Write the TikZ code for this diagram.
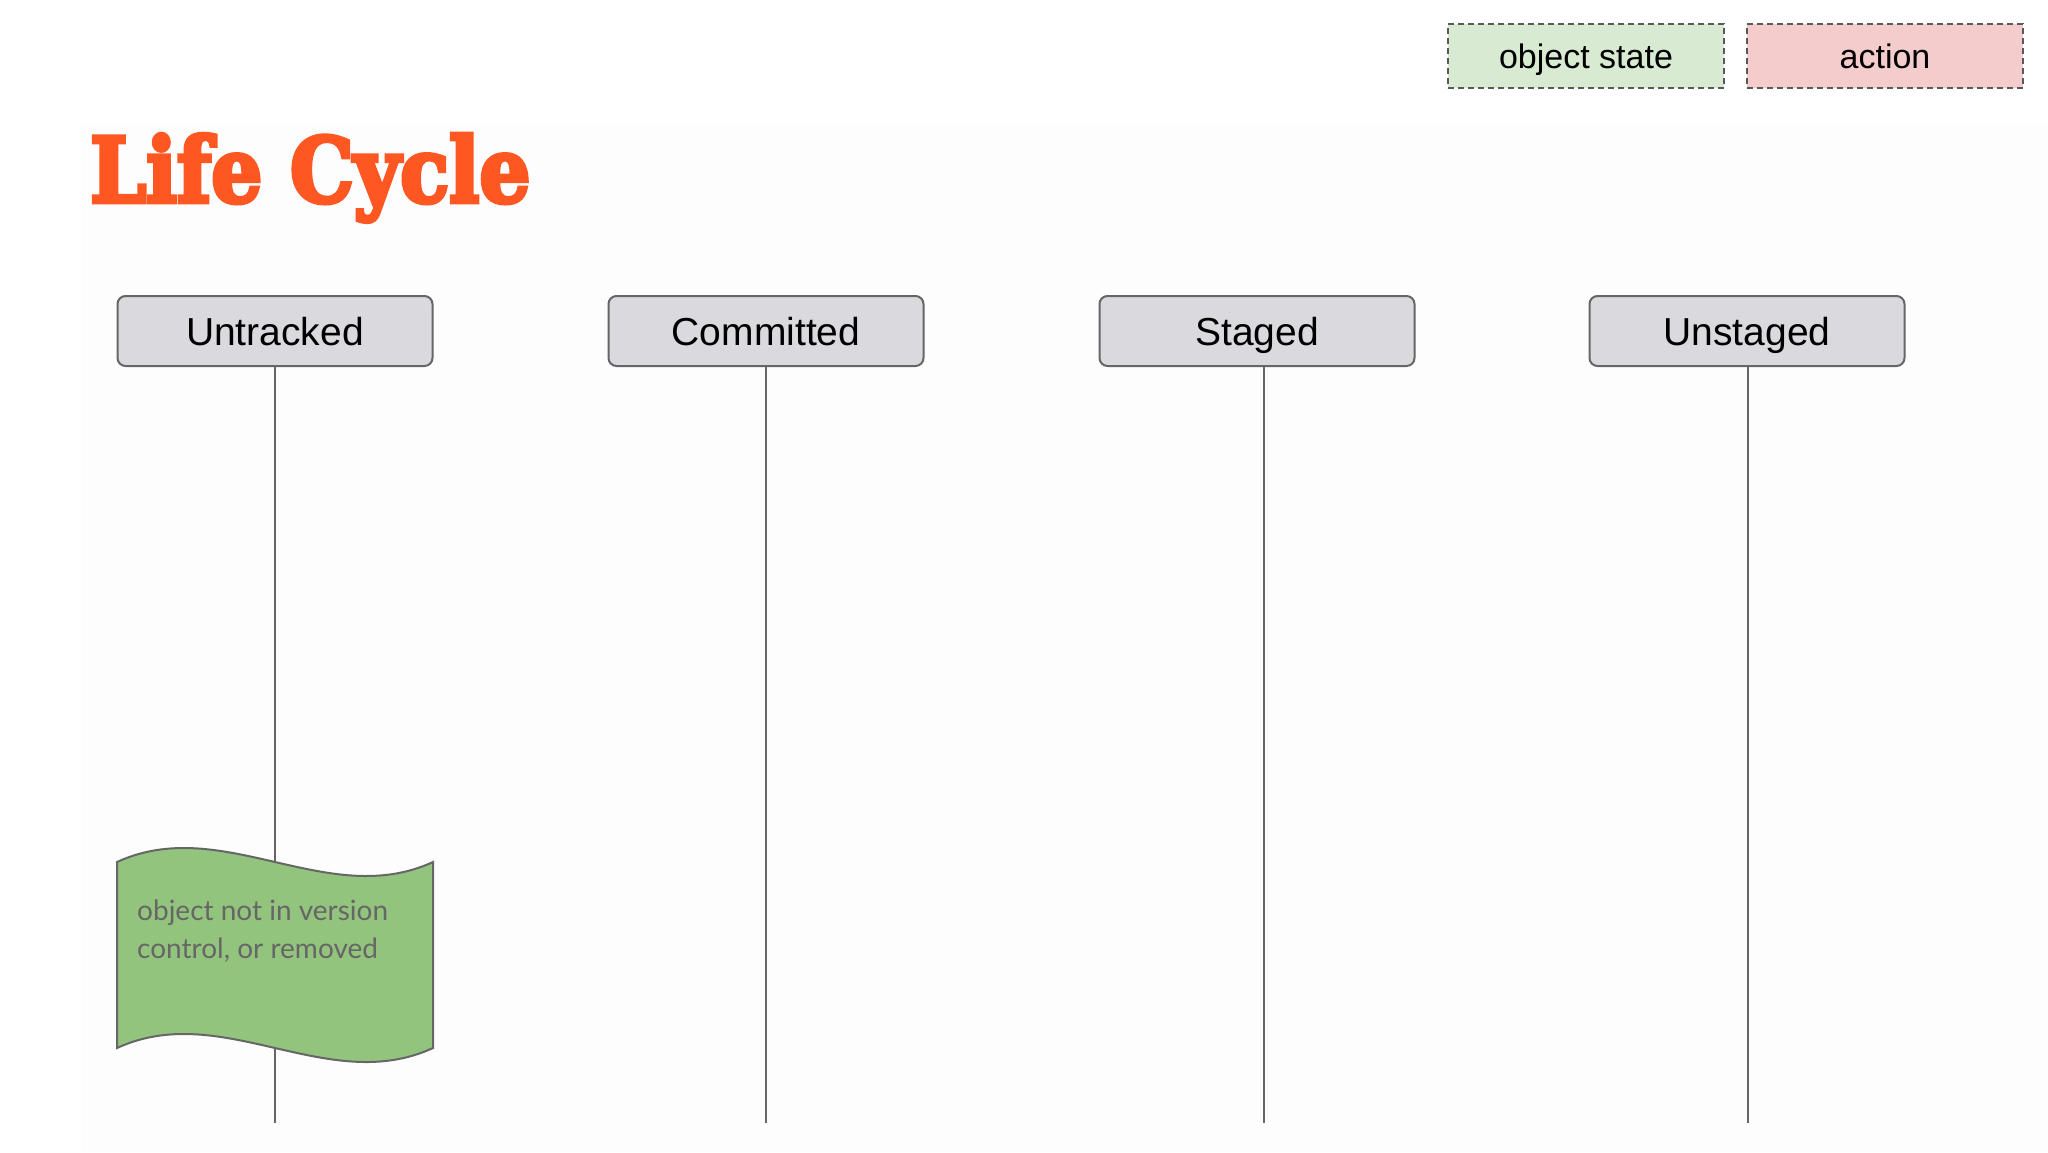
\documentclass[tikz,border=0pt]{standalone}
\usepackage{fontspec}
\setmainfont{Liberation Sans}
\newfontfamily\titlefont{DejaVu Serif}[BoldFeatures={FakeBold=5}]
\newfontfamily\flagfont{Lato}
\usepackage{graphicx}
\definecolor{titleorange}{RGB}{255,87,34}
\definecolor{boxgray}{RGB}{218,217,222}
\definecolor{edgegray}{RGB}{102,102,102}
\definecolor{dashgray}{RGB}{89,89,89}
\definecolor{stategreen}{RGB}{217,234,211}
\definecolor{actionred}{RGB}{244,204,204}
\definecolor{flaggreen}{RGB}{147,196,125}
\definecolor{bgfaint}{RGB}{253,253,253}
\begin{document}
\begin{tikzpicture}[x=1pt,y=-1pt,
  header/.style={draw=edgegray, line width=2pt, fill=boxgray, rounded corners=8pt,
    minimum width=315pt, minimum height=70pt, inner sep=0pt,
    text height=28pt, text depth=0pt, font=\fontsize{39}{44}\selectfont, text=black},
  legendbox/.style={draw=dashgray, line width=2pt, dash pattern=on 6pt off 4pt,
    minimum width=276pt, minimum height=64pt, inner sep=0pt,
    text height=24pt, text depth=0pt, font=\fontsize{34}{40}\selectfont},
  lifeline/.style={draw=edgegray, line width=2pt},
  flagshape/.style={draw=edgegray, line width=2pt, fill=flaggreen},
  flagtext/.style={anchor=base west, inner sep=0pt, text=edgegray,
    font=\flagfont\fontsize{28}{32}\selectfont}]
\useasboundingbox[fill=white] (0,0) rectangle (2048,1152);
\fill[bgfaint] (81,124) rectangle (2048,1152);

% legend
\node[legendbox, fill=stategreen] (legstate) at (1586,56) {object state};
\node[legendbox, fill=actionred] (legaction) at (1885,56) {action};

% title
\node[anchor=base west, inner sep=0pt, text=titleorange] (title) at (90,202)
  {\resizebox{440pt}{68pt}{\titlefont\bfseries Life Cycle}};

% headers
\node[header] (untracked) at (275,331) {Untracked};
\node[header] (committed) at (766,331) {Committed};
\node[header] (staged) at (1257,331) {Staged};
\node[header] (unstaged) at (1747,331) {Unstaged};

% lifeline ends
\coordinate (utEnd) at (275,1123);
\coordinate (coEnd) at (766,1123);
\coordinate (stEnd) at (1264,1123);
\coordinate (unEnd) at (1748,1123);

\draw[lifeline] (untracked.south) -- (utEnd);
\draw[lifeline] (committed.south) -- (coEnd);
\draw[lifeline] ([xshift=7pt]staged.south) -- (stEnd);
\draw[lifeline] ([xshift=1pt]unstaged.south) -- (unEnd);

% flag
\draw[flagshape] (117,862) .. controls (222.3,813.5) and (327.7,910.5) .. (433,862)
  -- (433,1048) .. controls (327.7,1096.5) and (222.3,999.5) .. (117,1048) -- cycle;
\node[flagtext] (flagA) at (137,920) {object not in version};
\node[flagtext] (flagB) at (137,958) {control, or removed};
\end{tikzpicture}
\end{document}
